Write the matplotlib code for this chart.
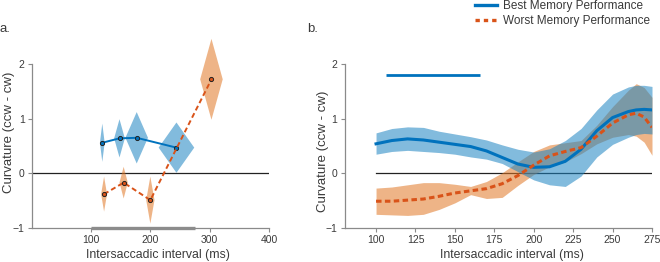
import matplotlib
matplotlib.use("Agg")
import matplotlib.pyplot as plt
from matplotlib.lines import Line2D
import numpy as np

plt.rcParams['font.family'] = ['Liberation Sans', 'DejaVu Sans']

# ---------------- data: panel a ----------------
a_blue_x = [119, 148, 177, 244]
a_blue_y = [0.56, 0.64, 0.65, 0.47]
a_blue_xerr = [4, 9, 19, 30]
a_blue_yerr = [0.35, 0.35, 0.47, 0.46]

a_orange_x = [122, 155, 200, 303]
a_orange_y = [-0.38, -0.17, -0.49, 1.72]
a_orange_xerr = [5, 7, 7, 19]
a_orange_yerr = [0.32, 0.29, 0.43, 0.74]

a_sig_range = [100, 276]

# ---------------- data: panel b ----------------
b_x = [100, 110, 120, 130, 140, 150, 160, 170, 180, 190, 200, 210, 220, 230,
       240, 250, 260, 265, 270, 275]
best_mean = [0.54, 0.60, 0.63, 0.61, 0.57, 0.53, 0.49, 0.41, 0.29, 0.17, 0.11,
             0.12, 0.22, 0.44, 0.78, 1.02, 1.13, 1.16, 1.17, 1.16]
best_hi = [0.74, 0.82, 0.85, 0.84, 0.77, 0.72, 0.67, 0.61, 0.52, 0.44, 0.39,
           0.45, 0.60, 0.82, 1.16, 1.45, 1.58, 1.61, 1.61, 1.59]
best_lo = [0.35, 0.40, 0.42, 0.40, 0.38, 0.35, 0.30, 0.26, 0.18, 0.03, -0.12,
           -0.21, -0.24, -0.05, 0.30, 0.53, 0.66, 0.71, 0.73, 0.72]
worst_mean = [-0.51, -0.51, -0.49, -0.47, -0.42, -0.36, -0.32, -0.28, -0.19,
              -0.04, 0.15, 0.32, 0.40, 0.47, 0.68, 0.92, 1.07, 1.10, 1.03, 0.84]
worst_hi = [-0.27, -0.25, -0.21, -0.17, -0.17, -0.20, -0.24, -0.15, 0.01, 0.21,
            0.40, 0.52, 0.56, 0.60, 0.88, 1.22, 1.52, 1.64, 1.57, 1.39]
worst_lo = [-0.75, -0.76, -0.77, -0.75, -0.66, -0.54, -0.39, -0.46, -0.44, -0.22,
            -0.02, 0.12, 0.21, 0.36, 0.54, 0.66, 0.71, 0.68, 0.57, 0.33]
b_sig_range = [106, 166]
b_sig_level = 1.8

a_xticks = [100, 200, 300, 400]
b_xticks = [100, 125, 150, 175, 200, 225, 250, 275]
yticks = [-1, 0, 1, 2]
ytick_labels = ['\u22121', '0', '1', '2']

labels = ['Best Memory Performance', 'Worst Memory Performance']

# ---------------- style ----------------
BLUE = '#0072BD'
ORANGE = '#D95319'
BLUE_FILL = (28/255, 131/255, 193/255)
ORANGE_FILL = (224/255, 119/255, 37/255)
SPINE = '#8a8a8a'
TXT = '#3a3a3a'

W, H = 660, 262
fig = plt.figure(figsize=(6.6, 2.62), dpi=100)


def frac(x0, x1):
    return x0 / W, 1 - 228 / H, (x1 - x0) / W, 164 / H


axa = fig.add_axes(frac(31.7, 269))
axb = fig.add_axes(frac(344.5, 652))


def style(ax):
    for s in ['top', 'right']:
        ax.spines[s].set_visible(False)
    for s in ['left', 'bottom']:
        ax.spines[s].set_color(SPINE)
        ax.spines[s].set_linewidth(0.9)
    ax.tick_params(direction='out', length=3, width=0.8, color=SPINE,
                   labelsize=7.5, labelcolor=TXT, pad=2)
    ax.set_ylim(-1, 2)
    ax.set_yticks(yticks)
    ax.set_yticklabels(ytick_labels)
    ax.set_ylabel('Curvature (ccw - cw)', fontsize=9.5, color=TXT)
    ax.set_xlabel('Intersaccadic interval (ms)', fontsize=8.8, color=TXT)


# ---------------- panel a ----------------
style(axa)
axa.set_xlim(0, 400)
axa.set_xticks(a_xticks)
axa.axhline(0, color='#222222', lw=0.9, zorder=1)


def diamonds(ax, xs, ys, xe, ye, color):
    for x, y, dx, dy in zip(xs, ys, xe, ye):
        ax.fill([x - dx, x, x + dx, x], [y, y + dy, y, y - dy],
                color=color, alpha=0.55, lw=0, clip_on=False, zorder=2)


diamonds(axa, a_blue_x, a_blue_y, a_blue_xerr, a_blue_yerr, BLUE_FILL)
diamonds(axa, a_orange_x, a_orange_y, a_orange_xerr, a_orange_yerr, ORANGE_FILL)
axa.plot(a_blue_x, a_blue_y, color=BLUE, lw=1.4, marker='o', ms=3,
         mfc=BLUE, mec='#222222', mew=0.7, zorder=4, clip_on=False)
axa.plot(a_orange_x, a_orange_y, color=ORANGE, lw=1.4, dashes=(2.6, 1.6),
         marker='o', ms=3, mfc=ORANGE, mec='#222222', mew=0.7, zorder=4,
         clip_on=False)
axa.plot(a_sig_range, [-1, -1], color='#8c8c8c', lw=2.4, solid_capstyle='butt',
         clip_on=False, zorder=5)
axa.yaxis.set_label_coords(-0.07, 0.585)
axa.xaxis.set_label_coords(0.53, -0.13)

# ---------------- panel b ----------------
style(axb)
axb.set_xlim(80, 275)
axb.set_xticks(b_xticks)
axb.plot([b_x[0], b_x[-1]], [0, 0], color='#222222', lw=0.9, zorder=1)
axb.fill_between(b_x, worst_lo, worst_hi, color=ORANGE_FILL, alpha=0.55,
                 lw=0, zorder=2)
axb.fill_between(b_x, best_lo, best_hi, color=BLUE_FILL, alpha=0.55,
                 lw=0, zorder=3)
axb.plot(b_x, best_mean, color=BLUE, lw=2.2, zorder=4)
axb.plot(b_x, worst_mean, color=ORANGE, lw=2.2, dashes=(1.8, 1.1), zorder=5)
axb.plot(b_sig_range, [b_sig_level, b_sig_level], color=BLUE, lw=2.0,
         solid_capstyle='butt', zorder=5)
axb.yaxis.set_label_coords(-0.05, 0.47)
axb.xaxis.set_label_coords(0.545, -0.13)

# ---------------- panel letters & legend ----------------
fig.text(0.0, 1 - 29 / H, 'a.', fontsize=9.5, color=TXT, va='center', ha='left')
fig.text(307 / W, 1 - 29 / H, 'b.', fontsize=9.5, color=TXT, va='center', ha='left')

handles = [Line2D([], [], color=BLUE, lw=2.4),
           Line2D([], [], color=ORANGE, lw=2.4, dashes=(1.3, 1.2))]
fig.legend(handles, labels, loc='upper left', bbox_to_anchor=(475 / W, 1.0),
           frameon=False, fontsize=8.5, borderpad=0, borderaxespad=0,
           handlelength=1.9, handletextpad=0.45, labelspacing=0.25,
           labelcolor=TXT)

fig.savefig('out.png', dpi=100)
